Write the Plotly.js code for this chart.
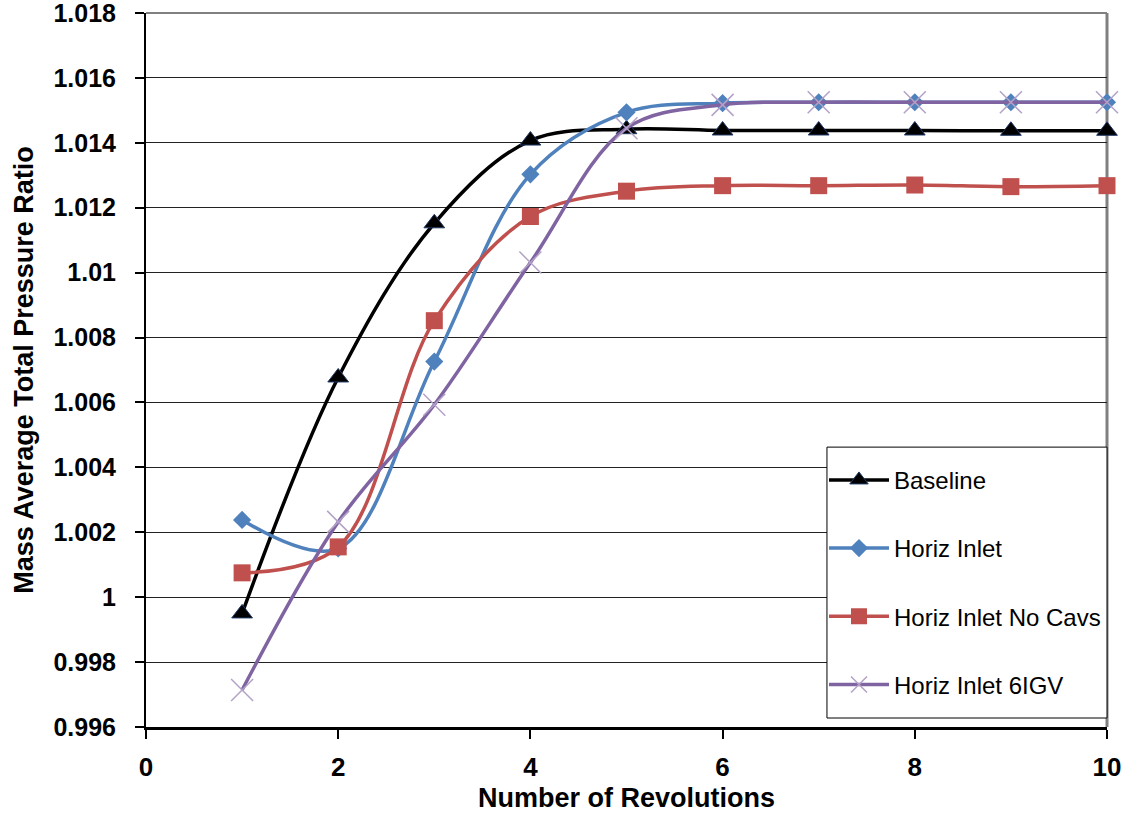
<!DOCTYPE html>
<html>
<head>
<meta charset="utf-8">
<script src="https://cdn.plot.ly/plotly-3.0.1.min.js"></script>
<style>html,body{margin:0;padding:0;background:#fff;}#chart{width:1128px;height:814px;}</style>
</head>
<body>
<div id="chart"></div>
<script>
const revolutions = [1, 2, 3, 4, 5, 6, 7, 8, 9, 10];
const baseline    = [0.9995, 1.00677, 1.01152, 1.01407, 1.01442, 1.01438, 1.01438, 1.01438, 1.01437, 1.01437];
const horizInlet  = [1.00238, 1.0015, 1.00726, 1.01303, 1.01494, 1.01522, 1.01525, 1.01525, 1.01525, 1.01525];
const horizNoCavs = [1.00075, 1.00155, 1.00852, 1.01173, 1.01251, 1.01268, 1.01268, 1.0127, 1.01265, 1.01268];
const horiz6IGV   = [0.99714, 1.00232, 1.00593, 1.01031, 1.01445, 1.01517, 1.01525, 1.01525, 1.01525, 1.01525];
const seriesNames = ["Baseline", "Horiz Inlet", "Horiz Inlet No Cavs", "Horiz Inlet 6IGV"];
const yTickVals = [0.996, 0.998, 1.0, 1.002, 1.004, 1.006, 1.008, 1.01, 1.012, 1.014, 1.016, 1.018];
const yTickText = ["0.996", "0.998", "1", "1.002", "1.004", "1.006", "1.008", "1.01", "1.012", "1.014", "1.016", "1.018"];
const xTickVals = [0, 2, 4, 6, 8, 10];

const lineShape = {shape: "spline", smoothing: 1, width: 3.5};
const traces = [
  {x: revolutions, y: baseline, name: seriesNames[0], legendgroup: "a",
   line: Object.assign({color: "#000000"}, lineShape),
   marker: {symbol: "triangle-up", size: 18, color: "#000000", line: {color: "#1F3864", width: 1}}},
  {x: revolutions, y: horizInlet, name: seriesNames[1], legendgroup: "b",
   line: Object.assign({color: "#4F81BD"}, lineShape),
   marker: {symbol: "diamond", size: 14, color: "#4F81BD"}},
  {x: revolutions, y: horizNoCavs, name: seriesNames[2], legendgroup: "c",
   line: Object.assign({color: "#C0504D"}, lineShape),
   marker: {symbol: "square", size: 17, color: "#C0504D"}},
  {x: revolutions, y: horiz6IGV, name: seriesNames[3], legendgroup: "d",
   line: Object.assign({color: "#8064A2"}, lineShape),
   marker: {symbol: "x-thin-open", size: 22, color: "#B3A2C7", line: {color: "#B3A2C7", width: 1.5}}}
].map(t => Object.assign({type: "scatter", mode: "lines+markers", cliponaxis: false}, t));

const boldArial = (size) => ({family: "Liberation Sans, Arial, sans-serif", size: size, color: "#000", weight: "bold"});
const layout = {
  width: 1128, height: 814,
  margin: {l: 146, r: 21, t: 13, b: 87},
  paper_bgcolor: "#fff", plot_bgcolor: "#fff",
  showlegend: true,
  xaxis: {
    range: [0, 10], tickvals: xTickVals, ticktext: xTickVals.map(String),
    showgrid: false, zeroline: false,
    showline: true, linecolor: "#000", linewidth: 3,
    ticks: "outside", ticklen: 9, tickwidth: 2, tickcolor: "#000",
    ticklabelstandoff: 6, ticklabeloverflow: "allow",
    tickfont: boldArial(26),
    title: {text: "Number of Revolutions", font: boldArial(27), standoff: 7}
  },
  yaxis: {
    range: [0.996, 1.018], tickvals: yTickVals, ticktext: yTickText,
    showgrid: true, gridcolor: "#222", gridwidth: 1, zeroline: false,
    showline: true, linecolor: "#000", linewidth: 2,
    ticks: "outside", ticklen: 9, tickwidth: 2, tickcolor: "#000",
    ticklabelstandoff: 14, ticklabeloverflow: "allow",
    tickfont: boldArial(25),
    title: {text: "Mass Average Total Pressure Ratio",
            font: {family: "Liberation Sans Narrow, Arial Narrow, sans-serif", size: 27, color: "#000", weight: "bold"},
            standoff: 12}
  },
  shapes: [
    {type: "line", xref: "paper", yref: "paper", x0: 0, x1: 1, y0: 1, y1: 1, line: {color: "#808080", width: 2}, layer: "between"},
    {type: "line", xref: "paper", yref: "paper", x0: 1, x1: 1, y0: 0, y1: 1, line: {color: "#808080", width: 3}, layer: "between"},
    {type: "rect", xref: "paper", yref: "paper", x0: 0.7086, x1: 1.0, y0: 0.0126, y1: 0.392,
     fillcolor: "#fff", line: {color: "#000", width: 1}, layer: "above"}
  ],
  legend: {
    x: 0.7055, y: 0.377, xanchor: "left", yanchor: "top",
    bgcolor: "rgba(0,0,0,0)", borderwidth: 0,
    font: {family: "Liberation Sans, Arial, sans-serif", size: 24, color: "#000"},
    tracegroupgap: 34, itemwidth: 60
  }
};
Plotly.newPlot("chart", traces, layout, {displayModeBar: false, staticPlot: true});
</script>
</body>
</html>
